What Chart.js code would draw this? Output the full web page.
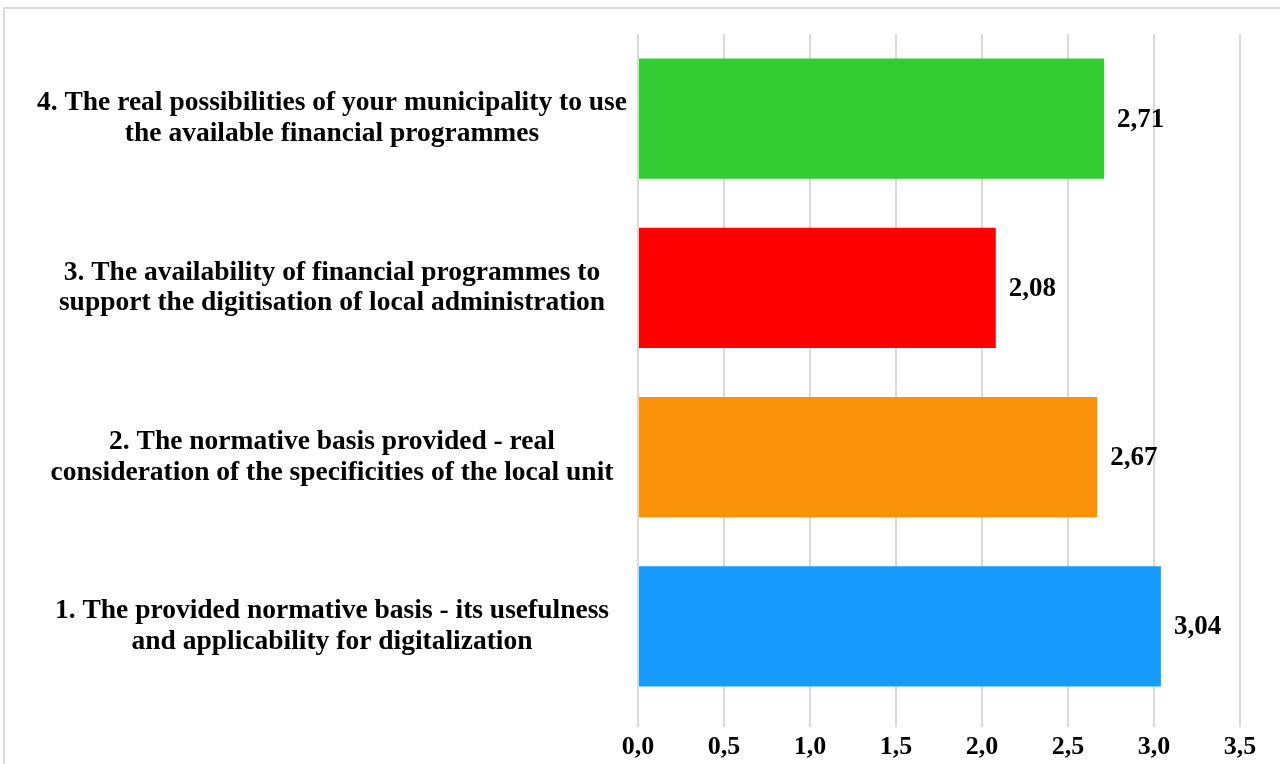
<!DOCTYPE html>
<html>
<head>
<meta charset="utf-8">
<script src="https://cdn.jsdelivr.net/npm/chart.js@4.4.1/dist/chart.umd.min.js"></script>
<style>
  html, body { margin: 0; padding: 0; background: #fff; overflow: hidden; }
  #frame {
    position: absolute; left: 3px; top: 7px; width: 1300px; height: 800px;
    border: 2px solid #d9d9d9; box-sizing: border-box;
  }
  #wrap { position: absolute; left: 0; top: 0; width: 1280px; height: 764px; }
</style>
</head>
<body>
<div id="frame"></div>
<div id="wrap"><canvas id="barChart"></canvas></div>
<script>
// questions, listed bottom to top
const categories = [
    ['1. The provided normative basis - its usefulness', 'and applicability for digitalization'],
    ['2. The normative basis provided - real', 'consideration of the specificities of the local unit'],
    ['3. The availability of financial programmes to', 'support the digitisation of local administration'],
    ['4. The real possibilities of your municipality to use', 'the available financial programmes']
];
const scores = [3.04, 2.67, 2.08, 2.71];
const barColors = ['#189bff', '#fa930a', '#ff0000', '#33cc33'];
const xTicks = [0, 0.5, 1, 1.5, 2, 2.5, 3, 3.5];

const serif = '"Liberation Serif", "Times New Roman", serif';
const fmt = v => v.toFixed(2).replace('.', ',');

// writes the score just right of each bar
const valueLabels = {
    id: 'valueLabels',
    afterDatasetsDraw(chart) {
        const ctx = chart.ctx;
        const meta = chart.getDatasetMeta(0);
        ctx.save();
        ctx.font = 'bold 27px ' + serif;
        ctx.fillStyle = '#000';
        ctx.textAlign = 'left';
        ctx.textBaseline = 'middle';
        meta.data.forEach((bar, i) => {
            ctx.fillText(fmt(scores[i]), bar.x + 13, bar.y + 1);
        });
        ctx.restore();
    }
};

document.addEventListener("DOMContentLoaded", () => {
    const ctx = document.getElementById("barChart").getContext("2d");

    new Chart(ctx, {
        type: 'bar',
        data: {
            labels: categories,
            datasets: [{
                data: scores,
                backgroundColor: barColors,
                borderWidth: 0,
                barPercentage: 0.71,
                categoryPercentage: 1
            }]
        },
        options: {
            indexAxis: 'y',
            responsive: true,
            maintainAspectRatio: false,
            animation: false,
            layout: { padding: { left: 10, right: 40, top: 34, bottom: 0 } },
            plugins: {
                legend: { display: false },
                tooltip: { enabled: false }
            },
            scales: {
                x: {
                    min: 0,
                    max: 3.5,
                    afterBuildTicks: s => { s.ticks = xTicks.map(v => ({ value: v })); },
                    afterFit: s => { s.height = 53; },
                    grid: { color: '#d9d9d9', lineWidth: 2, tickLength: 16, tickColor: '#d9d9d9' },
                    border: { display: false },
                    ticks: {
                        color: '#000',
                        padding: 6,
                        font: { family: serif, size: 26, weight: 'bold', lineHeight: 1.1 },
                        callback: v => v.toFixed(1).replace('.', ',')
                    }
                },
                y: {
                    reverse: true,
                    grid: { display: false },
                    border: { display: false },
                    // fixed label column; the two-line labels should not push the plot down
                    afterFit: s => { s.width = 628; s.paddingTop = 0; s.paddingBottom = 0; },
                    ticks: {
                        color: '#000',
                        crossAlign: 'center',
                        padding: 3,
                        font: { family: serif, size: 27.5, weight: 'bold', lineHeight: 1.12 }
                    }
                }
            }
        },
        plugins: [valueLabels]
    });
});
</script>
</body>
</html>
